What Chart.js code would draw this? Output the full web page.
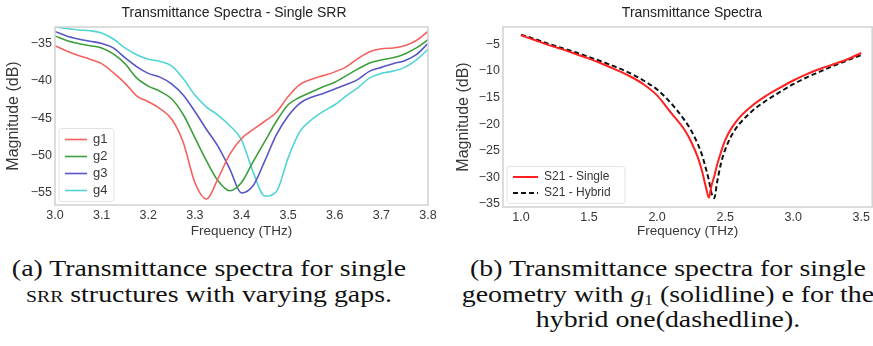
<!DOCTYPE html>
<html>
<head>
<meta charset="utf-8">
<script src="https://cdn.jsdelivr.net/npm/chart.js@4.4.0/dist/chart.umd.min.js"></script>
<style>
  body { margin: 0; background: #fff; width: 873px; height: 346px; overflow: hidden; position: relative; }
  canvas { position: absolute; top: 0; }
  #chartA { left: 0; }
  #chartB { left: 440px; }
  .cap { position: absolute; font-family: 'Liberation Serif', serif; font-size: 24px; color: #111; text-align: center; line-height: 25.5px; white-space: nowrap; transform: scaleX(1.16); transform-origin: 50% 0; }
  #capA { left: 9px; width: 400px; top: 256px; }
  #capB { left: 458px; width: 420px; top: 256px; }
  .sc { font-variant: small-caps; }
  sub { font-size: 15px; line-height: 0; vertical-align: -3px; }
</style>
</head>
<body>
<canvas id="chartA" width="440" height="242"></canvas>
<canvas id="chartB" width="433" height="242"></canvas>
<div class="cap" id="capA">(a) Transmittance spectra for single<br><span class="sc">srr</span> structures with varying gaps.</div>
<div class="cap" id="capB">(b) Transmittance spectra for single<br>geometry with <i>g</i><sub>1</sub> (solidline) e for the<br>hybrid one(dashedline).</div>
<script>
'use strict';

// left chart data (THz, dB)
let freqA = [3.000, 3.025, 3.050, 3.075, 3.100, 3.125, 3.150, 3.175, 3.200, 3.225, 3.250, 3.275, 3.300,
  3.325, 3.350, 3.375, 3.400, 3.425, 3.450, 3.475, 3.500, 3.525, 3.550, 3.575, 3.600, 3.625, 3.650,
  3.675, 3.700, 3.725, 3.750, 3.775, 3.800];
let g1 = [-35.3, -36.0, -36.6, -37.1, -37.7, -38.9, -40.3, -42.0, -42.8, -43.7, -45.1, -48.2, -53.6,
  -55.8, -53.0, -49.8, -47.7, -46.5, -45.4, -44.2, -42.1, -40.5, -39.8, -39.3, -38.8, -38.1, -37.0,
  -36.1, -35.7, -35.6, -35.3, -34.6, -33.4];
let g2 = [-34.0, -34.6, -35.0, -35.3, -35.6, -36.4, -37.7, -39.6, -40.7, -41.4, -42.4, -44.5, -47.6,
  -50.7, -53.4, -54.7, -53.6, -50.8, -48.1, -45.4, -43.2, -42.2, -41.5, -40.8, -40.2, -39.3, -38.4,
  -37.6, -37.2, -36.9, -36.4, -35.6, -34.5];
let g3 = [-33.4, -34.0, -34.4, -34.7, -35.0, -35.6, -36.9, -38.1, -39.0, -39.5, -40.4, -41.9, -44.1,
  -46.5, -48.8, -51.8, -55.0, -54.0, -50.7, -47.2, -44.7, -43.0, -42.2, -41.7, -41.1, -40.5, -39.8,
  -38.7, -38.2, -37.7, -37.3, -36.5, -35.0];
let g4 = [-32.8, -33.0, -33.2, -33.3, -33.6, -34.4, -35.6, -36.5, -37.1, -37.4, -38.0, -39.7, -41.9,
  -43.5, -44.6, -46.0, -47.9, -52.2, -55.4, -54.8, -50.3, -46.8, -45.2, -44.1, -43.2, -42.0, -40.9,
  -39.6, -39.0, -38.7, -38.2, -37.2, -35.8];
let xTicksA = [3.0, 3.1, 3.2, 3.3, 3.4, 3.5, 3.6, 3.7, 3.8];
let yTicksA = [-35, -40, -45, -50, -55];

// right chart data
let freqB = [1.0, 1.1, 1.2, 1.3, 1.4, 1.5, 1.6, 1.7, 1.8, 1.9, 2.0, 2.1, 2.2, 2.25, 2.3, 2.33, 2.36,
  2.38, 2.40, 2.42, 2.44, 2.47, 2.5, 2.55, 2.6, 2.7, 2.8, 2.9, 3.0, 3.1, 3.2, 3.3, 3.4, 3.5];
let s21Single = [-3.3, -4.2, -5.1, -5.9, -6.8, -7.7, -8.7, -9.8, -11.0, -12.5, -14.6, -17.8, -21.0,
  -23.3, -26.3, -28.8, -32.0, -33.8, -31.5, -29.8, -27.7, -25.2, -23.0, -20.6, -18.9, -16.5, -14.7,
  -13.2, -11.8, -10.6, -9.6, -8.7, -7.8, -6.6];
let s21Hybrid = [-3.2, -4.0, -4.9, -5.7, -6.5, -7.4, -8.3, -9.3, -10.4, -11.8, -13.5, -16.0, -19.2,
  -21.2, -23.8, -25.8, -28.5, -30.5, -33.0, -33.9, -31.0, -27.3, -24.8, -22.0, -20.1, -17.5, -15.6,
  -14.0, -12.5, -11.2, -10.1, -9.0, -8.0, -7.0];
let xTicksB = [1.0, 1.5, 2.0, 2.5, 3.0, 3.5];
let yTicksB = [-5, -10, -15, -20, -25, -30, -35];

const FONT = 'Liberation Sans';
const TXT = '#383838';

function pts(xs, ys) {
  return xs.map((x, i) => ({ x: x, y: ys[i] }));
}

function minus(v) {
  return String(v).replace('-', '\u2212');
}

// title, light frame around the plot and legend box in the lower left corner
const framePlugin = {
  id: 'frame',
  afterDatasetsDraw(chart, args, opts) {
    let c = chart.ctx;
    let a = chart.chartArea;
    c.save();
    c.strokeStyle = '#d4d4d4';
    c.lineWidth = 1.6;
    c.strokeRect(a.left, a.top, a.right - a.left, a.bottom - a.top);

    c.fillStyle = '#222';
    c.font = '14px ' + FONT;
    c.textAlign = 'center';
    c.textBaseline = 'middle';
    c.fillText(opts.title, opts.titleX, 13.5);
    c.textAlign = 'left';

    let sets = chart.data.datasets;
    let rowH = opts.rowH;
    let boxH = rowH * sets.length + 5;
    let x0 = a.left + 4;
    let y0 = a.bottom - 3.5 - boxH;
    c.fillStyle = 'rgba(255,255,255,0.85)';
    c.strokeStyle = '#e2e2e2';
    c.lineWidth = 1;
    c.beginPath();
    c.roundRect(x0, y0, opts.boxW, boxH, 3);
    c.fill();
    c.stroke();
    c.font = opts.fontSize + 'px ' + FONT;
    sets.forEach((ds, i) => {
      let y = y0 + 2.5 + rowH * (i + 0.5);
      c.strokeStyle = ds.borderColor;
      c.lineWidth = ds.borderWidth;
      c.setLineDash(ds.borderDash || []);
      c.beginPath();
      c.moveTo(x0 + 6, y);
      c.lineTo(x0 + 6 + opts.lineW, y);
      c.stroke();
      c.setLineDash([]);
      c.fillStyle = TXT;
      c.fillText(ds.label, x0 + opts.textX, y);
    });
    c.restore();
  }
};

function makeChart(id, sets, cfg) {
  return new Chart(document.getElementById(id), {
    type: 'line',
    data: { datasets: sets },
    plugins: [framePlugin],
    options: {
      responsive: false,
      animation: false,
      layout: { padding: { left: 0, right: cfg.padRight, top: 27, bottom: 0 } },
      elements: { point: { radius: 0 }, line: { cubicInterpolationMode: 'monotone' } },
      plugins: {
        legend: { display: false },
        tooltip: { enabled: false },
        title: { display: false },
        frame: cfg.legend
      },
      scales: {
        x: {
          type: 'linear',
          min: cfg.xMin,
          max: cfg.xMax,
          grid: { display: false, drawTicks: false },
          border: { display: false },
          afterBuildTicks: (s) => { s.ticks = cfg.xTicks.map(v => ({ value: v })); },
          afterFit: (s) => { s.height = cfg.xHeight; },
          ticks: {
            color: TXT,
            padding: 3,
            font: { family: FONT, size: 12.5 },
            callback: (v) => v.toFixed(1)
          },
          title: {
            display: true,
            text: 'Frequency (THz)',
            color: TXT,
            font: { family: FONT, size: 13.5 },
            padding: { top: 0, bottom: 3 }
          }
        },
        y: {
          min: cfg.yMin,
          max: cfg.yMax,
          grid: { display: false, drawTicks: false },
          border: { display: false },
          afterBuildTicks: (s) => { s.ticks = cfg.yTicks.map(v => ({ value: v })); },
          afterFit: (s) => { s.width = cfg.yWidth; },
          ticks: {
            color: TXT,
            padding: 3,
            font: { family: FONT, size: 12.5 },
            callback: (v) => minus(v)
          },
          title: {
            display: true,
            text: 'Magnitude (dB)',
            color: TXT,
            font: { family: FONT, size: 16 },
            padding: { top: cfg.yTitlePad, bottom: 0 }
          }
        }
      }
    }
  });
}

makeChart('chartA', [
  { label: 'g1', data: pts(freqA, g1), borderColor: '#f4625f', borderWidth: 1.6 },
  { label: 'g2', data: pts(freqA, g2), borderColor: '#3c9e3c', borderWidth: 1.6 },
  { label: 'g3', data: pts(freqA, g3), borderColor: '#5656c6', borderWidth: 1.6 },
  { label: 'g4', data: pts(freqA, g4), borderColor: '#52d4d4', borderWidth: 1.6 }
], {
  padRight: 12, yWidth: 55, xHeight: 37, yTitlePad: 4,
  xMin: 3.0, xMax: 3.8, yMin: -56.6, yMax: -32.8,
  xTicks: xTicksA, yTicks: yTicksA,
  legend: { title: 'Transmittance Spectra - Single SRR', titleX: 234, rowH: 17, boxW: 55, lineW: 22, textX: 34, fontSize: 13 }
});

makeChart('chartB', [
  { label: 'S21 - Single', data: pts(freqB, s21Single), borderColor: '#ff2020', borderWidth: 2 },
  { label: 'S21 - Hybrid', data: pts(freqB, s21Hybrid), borderColor: '#111111', borderWidth: 2, borderDash: [5, 3] }
], {
  padRight: 0.5, yWidth: 63, xHeight: 35, yTitlePad: 14,
  xMin: 0.868, xMax: 3.58, yMin: -35.56, yMax: -1.75,
  xTicks: xTicksB, yTicks: yTicksB,
  legend: { title: 'Transmittance Spectra', titleX: 252, rowH: 16, boxW: 118, lineW: 25, textX: 37, fontSize: 12 }
});
</script>
</body>
</html>
